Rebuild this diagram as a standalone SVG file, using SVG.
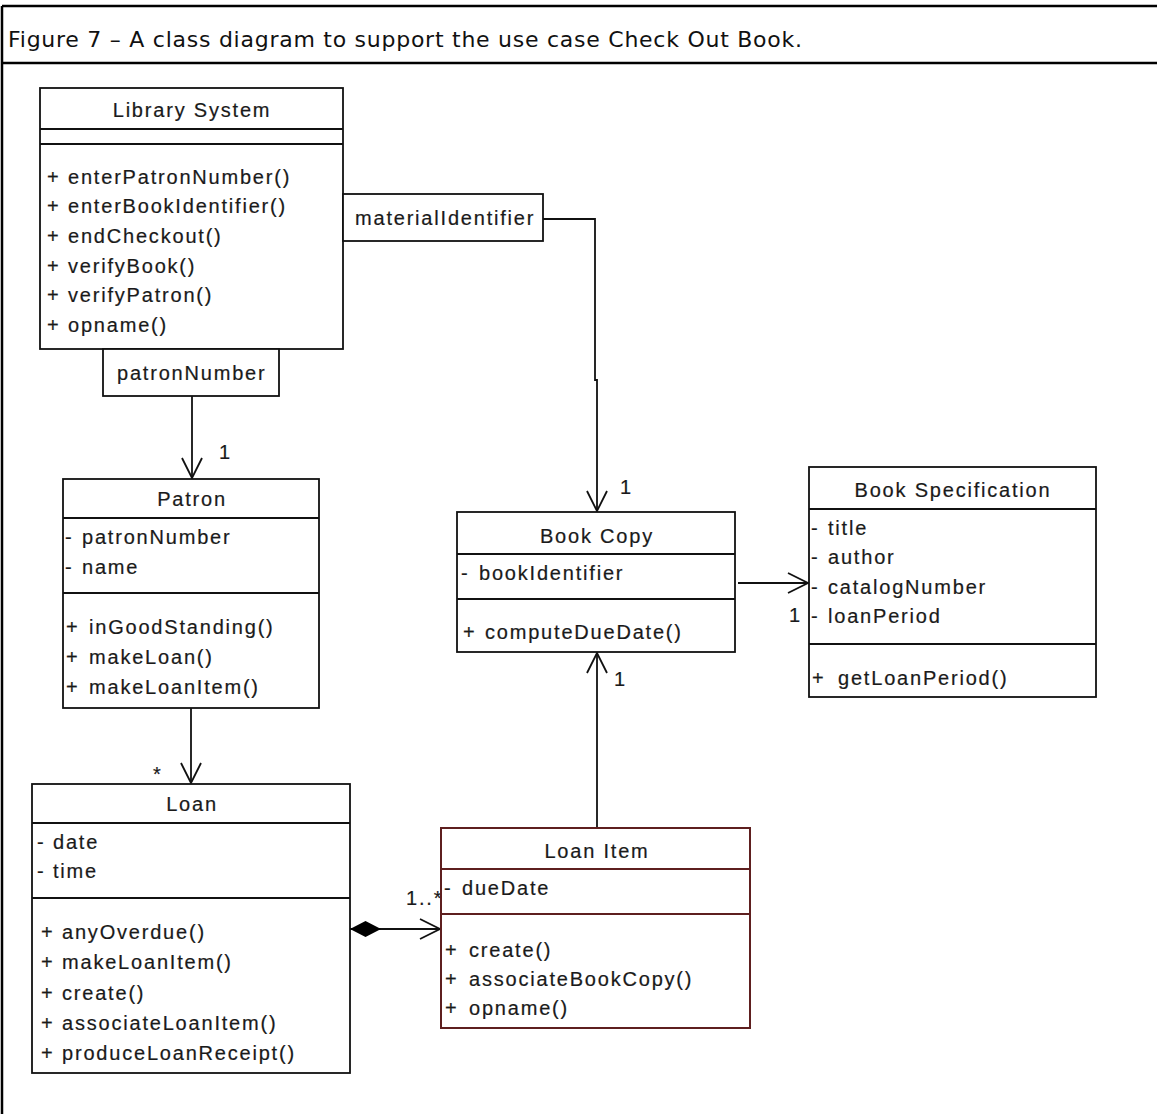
<svg xmlns="http://www.w3.org/2000/svg" width="1157" height="1114" viewBox="0 0 1157 1114">
  <style>
    .frame { fill: none; stroke: #000; stroke-width: 2.5; }
    .box { fill: #fff; stroke: #111; stroke-width: 1.8; }
    .box-red { fill: #fff; stroke: #5e1f1f; stroke-width: 2; }
    .sep { stroke: #111; stroke-width: 1.8; }
    .sep-red { stroke: #5e1f1f; stroke-width: 2; }
    .conn { fill: none; stroke: #111; stroke-width: 1.8; }
    .t { font-family: "Liberation Sans", Arial, sans-serif; font-size: 20px; fill: #1a1a1a; stroke: #1a1a1a; stroke-width: 0.2; letter-spacing: 1.8px; }
    .c { text-anchor: middle; }
    .title { font-family: "DejaVu Sans", Verdana, sans-serif; font-size: 22px; fill: #111; }
  </style>
  <defs>
    <marker id="open-arrow" markerUnits="userSpaceOnUse" markerWidth="24" markerHeight="24" viewBox="-2 -2 24 24" refX="20" refY="10" orient="auto" overflow="visible">
      <path d="M0,0 L20,10 L0,20" fill="none" stroke="#111" stroke-width="1.8"/>
    </marker>
    <marker id="composite" markerUnits="userSpaceOnUse" markerWidth="34" markerHeight="20" viewBox="0 0 34 20" refX="0" refY="8" orient="auto" overflow="visible">
      <path d="M0,8 L15.5,0 L31,8 L15.5,16 Z" fill="#000"/>
    </marker>
  </defs>

  <!-- figure frame and caption -->
  <g id="frame">
    <line class="frame" x1="2" y1="6" x2="1157" y2="6"/>
    <line class="frame" x1="2" y1="63" x2="1157" y2="63"/>
    <line class="frame" x1="2" y1="6" x2="2" y2="1114"/>
    <text class="title" x="8" y="47" textLength="794" lengthAdjust="spacing">Figure 7 – A class diagram to support the use case Check Out Book.</text>
  </g>

  <!-- associations -->
  <g id="connectors">
    <line class="conn" x1="192" y1="396" x2="192" y2="478" marker-end="url(#open-arrow)"/>
    <polyline class="conn" points="543,219 595,219 595,380 597,380 597,511" marker-end="url(#open-arrow)"/>
    <line class="conn" x1="191" y1="708" x2="191" y2="783" marker-end="url(#open-arrow)"/>
    <line class="conn" x1="597" y1="828" x2="597" y2="653" marker-end="url(#open-arrow)"/>
    <line class="conn" x1="738" y1="583" x2="808" y2="583" marker-end="url(#open-arrow)"/>
    <line class="conn" x1="350" y1="929" x2="440" y2="929" marker-start="url(#composite)" marker-end="url(#open-arrow)"/>
    <text class="t" x="219" y="459">1</text>
    <text class="t" x="620" y="494">1</text>
    <text class="t" x="614" y="686">1</text>
    <text class="t" x="789" y="622">1</text>
    <text class="t" x="153" y="781">*</text>
    <text class="t" x="406" y="905" letter-spacing="1">1..*</text>
  </g>

  <g id="library-system">
    <rect class="box" x="40" y="88" width="303" height="261"/>
    <line class="sep" x1="40" y1="129" x2="343" y2="129"/>
    <line class="sep" x1="40" y1="144" x2="343" y2="144"/>
    <text class="t c" x="192" y="117">Library System</text>
    <text class="t"><tspan x="47" y="184">+</tspan><tspan x="68" y="184">enterPatronNumber()</tspan></text>
    <text class="t"><tspan x="47" y="213">+</tspan><tspan x="68" y="213">enterBookIdentifier()</tspan></text>
    <text class="t"><tspan x="47" y="243">+</tspan><tspan x="68" y="243">endCheckout()</tspan></text>
    <text class="t"><tspan x="47" y="273">+</tspan><tspan x="68" y="273">verifyBook()</tspan></text>
    <text class="t"><tspan x="47" y="302">+</tspan><tspan x="68" y="302">verifyPatron()</tspan></text>
    <text class="t"><tspan x="47" y="332">+</tspan><tspan x="68" y="332">opname()</tspan></text>
  </g>

  <g id="qualifier-material">
    <rect class="box" x="343" y="194" width="200" height="47"/>
    <text class="t" x="355" y="225">materialIdentifier</text>
  </g>

  <g id="qualifier-patron">
    <rect class="box" x="103" y="349" width="176" height="47"/>
    <text class="t" x="117" y="380">patronNumber</text>
  </g>

  <g id="patron">
    <rect class="box" x="63" y="479" width="256" height="229"/>
    <line class="sep" x1="63" y1="518" x2="319" y2="518"/>
    <line class="sep" x1="63" y1="593" x2="319" y2="593"/>
    <text class="t c" x="192" y="506">Patron</text>
    <text class="t"><tspan x="65" y="544">-</tspan><tspan x="82" y="544">patronNumber</tspan></text>
    <text class="t"><tspan x="65" y="574">-</tspan><tspan x="82" y="574">name</tspan></text>
    <text class="t"><tspan x="66" y="634">+</tspan><tspan x="89" y="634">inGoodStanding()</tspan></text>
    <text class="t"><tspan x="66" y="664">+</tspan><tspan x="89" y="664">makeLoan()</tspan></text>
    <text class="t"><tspan x="66" y="694">+</tspan><tspan x="89" y="694">makeLoanItem()</tspan></text>
  </g>

  <g id="loan">
    <rect class="box" x="32" y="784" width="318" height="289"/>
    <line class="sep" x1="32" y1="823" x2="350" y2="823"/>
    <line class="sep" x1="32" y1="898" x2="350" y2="898"/>
    <text class="t c" x="192" y="811">Loan</text>
    <text class="t"><tspan x="37" y="849">-</tspan><tspan x="53" y="849">date</tspan></text>
    <text class="t"><tspan x="37" y="878">-</tspan><tspan x="53" y="878">time</tspan></text>
    <text class="t"><tspan x="41" y="939">+</tspan><tspan x="62" y="939">anyOverdue()</tspan></text>
    <text class="t"><tspan x="41" y="969">+</tspan><tspan x="62" y="969">makeLoanItem()</tspan></text>
    <text class="t"><tspan x="41" y="1000">+</tspan><tspan x="62" y="1000">create()</tspan></text>
    <text class="t"><tspan x="41" y="1030">+</tspan><tspan x="62" y="1030">associateLoanItem()</tspan></text>
    <text class="t"><tspan x="41" y="1060">+</tspan><tspan x="62" y="1060">produceLoanReceipt()</tspan></text>
  </g>

  <g id="loan-item">
    <rect class="box-red" x="441" y="828" width="309" height="200"/>
    <line class="sep-red" x1="441" y1="869" x2="750" y2="869"/>
    <line class="sep-red" x1="441" y1="914" x2="750" y2="914"/>
    <text class="t c" x="597" y="858">Loan Item</text>
    <text class="t"><tspan x="444" y="895">-</tspan><tspan x="462" y="895">dueDate</tspan></text>
    <text class="t"><tspan x="445" y="957">+</tspan><tspan x="469" y="957">create()</tspan></text>
    <text class="t"><tspan x="445" y="986">+</tspan><tspan x="469" y="986">associateBookCopy()</tspan></text>
    <text class="t"><tspan x="445" y="1015">+</tspan><tspan x="469" y="1015">opname()</tspan></text>
  </g>

  <g id="book-copy">
    <rect class="box" x="457" y="512" width="278" height="140"/>
    <line class="sep" x1="457" y1="554" x2="735" y2="554"/>
    <line class="sep" x1="457" y1="599" x2="735" y2="599"/>
    <text class="t c" x="597" y="543">Book Copy</text>
    <text class="t"><tspan x="461" y="580">-</tspan><tspan x="479" y="580">bookIdentifier</tspan></text>
    <text class="t"><tspan x="463" y="639">+</tspan><tspan x="485" y="639">computeDueDate()</tspan></text>
  </g>

  <g id="book-specification">
    <rect class="box" x="809" y="467" width="287" height="230"/>
    <line class="sep" x1="809" y1="509" x2="1096" y2="509"/>
    <line class="sep" x1="809" y1="644" x2="1096" y2="644"/>
    <text class="t c" x="953" y="497">Book Specification</text>
    <text class="t"><tspan x="811" y="535">-</tspan><tspan x="828" y="535">title</tspan></text>
    <text class="t"><tspan x="811" y="564">-</tspan><tspan x="828" y="564">author</tspan></text>
    <text class="t"><tspan x="811" y="594">-</tspan><tspan x="828" y="594">catalogNumber</tspan></text>
    <text class="t"><tspan x="811" y="623">-</tspan><tspan x="828" y="623">loanPeriod</tspan></text>
    <text class="t"><tspan x="812" y="685">+</tspan><tspan x="838" y="685">getLoanPeriod()</tspan></text>
  </g>
</svg>
